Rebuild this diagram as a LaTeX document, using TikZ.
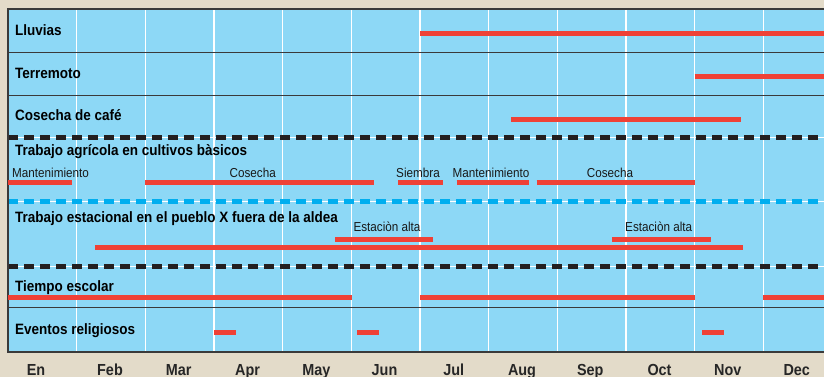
\documentclass[tikz,border=0pt]{standalone}
\usepackage{fontspec}
\setmainfont{Liberation Sans}[FakeStretch=0.9]
\definecolor{bgbeige}{HTML}{E3DBC9}
\definecolor{chartblue}{HTML}{8DD8F6}
\definecolor{barred}{HTML}{EF4136}
\definecolor{dashblue}{HTML}{00AEEF}
\definecolor{dashblack}{HTML}{231F20}
\definecolor{rulegray}{HTML}{3A3A3A}
\begin{document}
\begin{tikzpicture}[x=1pt,y=-1pt,
  rowlab/.style={anchor=base west,inner sep=0pt,font=\fontsize{15}{18}\selectfont\bfseries,text=black},
  sublab/.style={anchor=base,inner sep=0pt,font=\fontsize{13}{15}\selectfont,text=black!90},
  monthlab/.style={anchor=base,inner sep=0pt,font=\fontsize{16}{19}\selectfont\bfseries,text=black!85},
  bar/.style={draw=barred,line width=5pt},
  rowrule/.style={draw=rulegray,line width=1.3pt},
  gridline/.style={draw=white,line width=1.2pt},
  blackdash/.style={draw=dashblack,line width=4.5pt,dash pattern=on 9.5pt off 6.5pt},
  bluedash/.style={draw=dashblue,line width=4.5pt,dash pattern=on 9.5pt off 6.5pt},
  underline/.style={draw=white,line width=1pt}]
\useasboundingbox (0,0) rectangle (824,377);
\fill[bgbeige] (0,0) rectangle (824,377);
\fill[chartblue] (8,9) rectangle (824,352);
% month grid
\foreach \i in {1,...,11} \draw[gridline] ({8+68.667*\i},9) -- ({8+68.667*\i},352);
% row rules
\draw[rowrule] (8,52.3) -- (824,52.3);
\draw[rowrule] (8,95.7) -- (824,95.7);
\draw[rowrule] (8,307.7) -- (824,307.7);
% dashed separators
\draw[underline] (8,137.3) -- (824,137.3);
\draw[blackdash] (8,137.3) -- (824,137.3);
\draw[underline] (8,201.3) -- (824,201.3);
\draw[bluedash] (8,201.3) -- (824,201.3);
\draw[underline] (8,266.3) -- (824,266.3);
\draw[blackdash] (8,266.3) -- (824,266.3);
% border
\draw[rulegray,line width=1.5pt] (824,9) -- (8,9) -- (8,352) -- (824,352);
% row labels
\node[rowlab] (lluvias) at (15,35.7) {Lluvias};
\node[rowlab] (terremoto) at (15,78.3) {Terremoto};
\node[rowlab] (cafe) at (15,120.7) {Cosecha de café};
\node[rowlab] (agricola) at (15,155.7) {Trabajo agrícola en cultivos bàsicos};
\node[rowlab] (estacional) at (15,222.7) {Trabajo estacional en el pueblo X fuera de la aldea};
\node[rowlab] (escolar) at (15,291.7) {Tiempo escolar};
\node[rowlab] (religiosos) at (15,334.3) {Eventos religiosos};
% sub labels
\node[sublab,anchor=base west] (mant1) at (12,177.7) {Mantenimiento};
\node[sublab] (cos1) at (252.7,177.7) {Cosecha};
\node[sublab] (siem) at (418,177.7) {Siembra};
\node[sublab] (mant2) at (491,177.7) {Mantenimiento};
\node[sublab] (cos2) at (610,177.7) {Cosecha};
\node[sublab] (alta1) at (387,231.7) {Estaciòn alta};
\node[sublab] (alta2) at (658.7,231.7) {Estaciòn alta};
% bars
\draw[bar] (420,33.3) -- (824,33.3);
\draw[bar] (694.7,76.7) -- (824,76.7);
\draw[bar] (511,119.3) -- (740.7,119.3);
\draw[bar] (8,182.7) -- (72,182.7);
\draw[bar] (145.3,182.7) -- (374,182.7);
\draw[bar] (398,182.7) -- (442.7,182.7);
\draw[bar] (456.7,182.7) -- (529,182.7);
\draw[bar] (536.7,182.7) -- (695,182.7);
\draw[bar] (335,239) -- (432.7,239);
\draw[bar] (612,239) -- (710.7,239);
\draw[bar] (95,247.3) -- (742.7,247.3);
\draw[bar] (8,297.7) -- (351.7,297.7);
\draw[bar] (420,297.7) -- (694.7,297.7);
\draw[bar] (763.3,297.7) -- (824,297.7);
\draw[bar] (214,332.7) -- (236.3,332.7);
\draw[bar] (357.3,332.7) -- (379,332.7);
\draw[bar] (702,332.7) -- (724,332.7);
% months
\node[monthlab] (m1) at (36,375) {En};
\node[monthlab] (m2) at (110,375) {Feb};
\node[monthlab] (m3) at (178.7,375) {Mar};
\node[monthlab] (m4) at (247.5,375) {Apr};
\node[monthlab] (m5) at (316.3,375) {May};
\node[monthlab] (m6) at (384.5,375) {Jun};
\node[monthlab] (m7) at (453.7,375) {Jul};
\node[monthlab] (m8) at (522,375) {Aug};
\node[monthlab] (m9) at (590.3,375) {Sep};
\node[monthlab] (m10) at (659.5,375) {Oct};
\node[monthlab] (m11) at (727.8,375) {Nov};
\node[monthlab] (m12) at (796.7,375) {Dec};
\end{tikzpicture}
\end{document}
